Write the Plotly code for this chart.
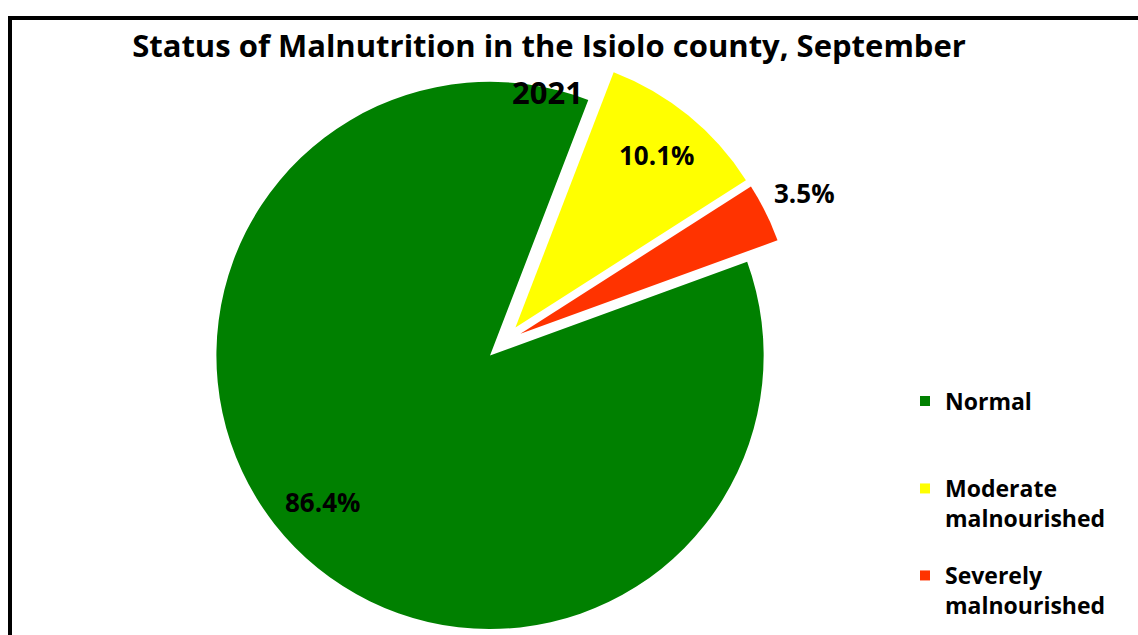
import math
import plotly.graph_objects as go

# chart data
labels = ["Normal", "Moderate malnourished", "Severely malnourished"]
legend_labels = ["Normal", "Moderate<br>malnourished", "Severely<br>malnourished"]
values = [86.4, 10.1, 3.5]
colors = ["#008000", "#FFFF00", "#FF3300"]

title_line1 = "Status of Malnutrition in the Isiolo county, September"
title_line2 = "2021"

W, H = 1138, 635
bold = {"family": "Open Sans", "color": "black", "weight": "bold"}

# pie geometry (pixels)
cx, cy = 503.5, 342.2
pull = 0.069
rotation = 70
box = 292.5
dom_x = [(cx - 300) / W, (cx + 300) / W]
dom_y = [1 - (cy + box) / H, 1 - (cy - box) / H]
r = box / (1 + pull)

fig = go.Figure()

fig.add_trace(
    go.Pie(
        labels = labels,
        values = values,
        sort = False,
        direction = "clockwise",
        rotation = rotation,
        pull = pull,
        marker = {"colors": colors, "line": {"width": 0}},
        textinfo = "none",
        domain = {"x": dom_x, "y": dom_y},
        showlegend = False,
        hoverinfo = "label+percent",
    )
)

# percentage labels along each slice bisector (inside, inside, outside)
label_radius = [0.815, 0.815, 1.16]
label_shift = [(-8, 10), (0, 0), (0, 0)]
total = sum(values)
start = rotation
label_notes = []
for v, f, (dx, dy) in zip(values, label_radius, label_shift):
    span = v / total * 360
    mid = math.radians(start + span / 2)
    start += span
    px = cx + (pull + f) * r * math.sin(mid)
    py = cy - (pull + f) * r * math.cos(mid)
    label_notes.append({
        "text": f"{v / total:.1%}",
        "showarrow": False,
        "xref": "paper",
        "yref": "paper",
        "x": px / W,
        "y": 1 - py / H,
        "xshift": dx,
        "yshift": dy,
        "xanchor": "center",
        "yanchor": "middle",
        "font": dict(bold, size = 26),
    })

# legend entries, one legend per item so they can be spaced like the original
legend_names = ["legend", "legend2", "legend3"]
for name, lab, col in zip(legend_names, legend_labels, colors):
    fig.add_trace(
        go.Scatter(
            x = [None],
            y = [None],
            mode = "markers",
            name = lab,
            marker = {"symbol": "square", "size": 10, "color": col},
            legend = name,
            showlegend = True,
        )
    )

def legend_box(ytop):
    return {
        "x": (945 - 40) / W,
        "y": 1 - ytop / H,
        "xanchor": "left",
        "yanchor": "top",
        "valign": "top",
        "font": dict(bold, size = 23),
        "bgcolor": "rgba(0,0,0,0)",
    }

border = {"color": "black", "width": 4}

fig.update_layout(
    width = W,
    height = H,
    margin = {"l": 0, "r": 0, "t": 0, "b": 0, "pad": 0, "autoexpand": False},
    paper_bgcolor = "white",
    plot_bgcolor = "white",
    xaxis = {"visible": False},
    yaxis = {"visible": False},
    title = {
        "text": title_line1,
        "x": 549 / W,
        "xanchor": "center",
        "y": 1 - 46 / H,
        "yanchor": "middle",
        "font": dict(bold, size = 31),
    },
    annotations = [
        {
            "text": title_line2,
            "showarrow": False,
            "xref": "paper",
            "yref": "paper",
            "x": 547 / W,
            "y": 1 - 92.5 / H,
            "xanchor": "center",
            "yanchor": "middle",
            "font": dict(bold, size = 31),
        },
    ] + label_notes,
    legend = legend_box(400.5 - 21),
    legend2 = legend_box(488 - 21),
    legend3 = legend_box(575 - 21),
    shapes = [
        # chart frame: only the left and top edges fall inside the picture
        {"type": "line", "xref": "paper", "yref": "paper",
         "x0": 10 / W, "x1": 10 / W, "y0": -0.05, "y1": 1 - 16 / H, "line": border},
        {"type": "line", "xref": "paper", "yref": "paper",
         "x0": 8 / W, "x1": 1.05, "y0": 1 - 18 / H, "y1": 1 - 18 / H, "line": border},
    ],
)

# drop the browser's default 8px page margin so the figure sits at the window corner
fig.write_html(
    "out.html",
    config = {"displayModeBar": False},
    post_script = "document.body.style.margin = '0'; document.body.style.overflow = 'hidden';",
)
